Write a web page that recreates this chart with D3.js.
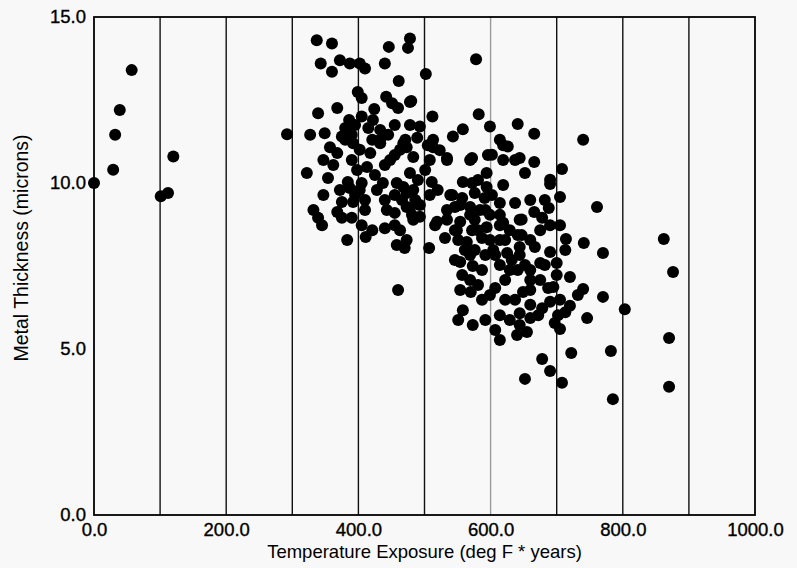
<!DOCTYPE html>
<html><head><meta charset="utf-8">
<script src="https://cdn.jsdelivr.net/npm/d3@7/dist/d3.min.js"></script>
<style>
html,body{margin:0;padding:0;background:#f8f8f8;}
svg{display:block;}
text{font-family:"Liberation Sans",Arial,Helvetica,sans-serif;fill:#000;}
</style></head>
<body>
<script>
const xTicks = [0, 200, 400, 600, 800, 1000];
const yTicks = [0, 5, 10, 15];
const gridValues = [100, 200, 300, 400, 500, 600, 700, 800, 900];
const xTitle = "Temperature Exposure (deg F * years)";
const yTitle = "Metal Thickness (microns)";

// Temperature exposure (deg F * years)
const exposure = [
0,29,32,39,57,101,112,120,292,
337,360,478,475,446,343,372,387,402,410,360,440,461,399,405,442,451,460,478,339,368,424,386,405,422,327,349,375,390,445,433,
578,502,480,512,582,599,641,666,558,543,614,626,602,572,534,513,493,740,644,666,652,708,690,690,705,761,666,688,678,647,647,714,741,770,667,690,700,652,675,660,720,695,687,740,732,770,649,862,803,690,678,720,702,746,697,705,870,782,722,678,690,708,870,785,652,876,460,
322,347,332,339,345,383,411,440,463,458,473,368,375,390,410,372,387,402,384,375,392,428,437,458,440,443,455,473,483,478,473,357,347,368,402,418,433,448,463,483,413,398,380,392,
473,513,534,569,596,619,637,619,511,508,486,478,558,572,594,619,594,542,557,576,591,614,637,546,569,584,599,614,519,534,554,576,549,572,594,619,644,551,564,587,614,641,644,576,604,625,507,468,468,483,493,
554,573,587,569,554,570,587,558,551,614,573,614,637,644,644,655,640,672,632,641,622,607,660,470,
362,354,390,380,395,415,421,433,455,478,489,471,455,440,425,405,395,410,405,421,455,466,481,455,493,490,501,508,505,523,
520,539,554,534,516,546,531,561,569,581,592,599,581,602,614,622,607,629,644,660,675,660,682,690,705,713,682,700,675,660,
629,614,592,569,546,557,581,599,622,592,660,660,629,607,705,713
];
// Metal thickness (microns)
const thickness = [
10.0,10.4,11.45,12.2,13.4,9.6,9.7,10.8,11.47,
14.3,14.2,14.35,14.07,14.1,13.6,13.7,13.6,13.6,13.45,13.35,13.6,13.07,12.74,12.56,12.6,12.4,12.26,12.44,12.1,12.26,12.23,11.9,12.0,11.9,11.45,11.5,11.4,11.45,11.45,11.3,
13.73,13.28,12.47,12.0,12.07,11.7,11.78,11.48,11.62,11.4,11.3,11.1,10.85,10.75,10.75,11.3,11.7,11.3,10.75,10.63,10.3,10.42,10.1,9.97,9.58,9.28,9.13,9.25,8.95,8.9,8.43,8.31,8.19,7.89,8.07,7.92,7.59,7.53,7.59,7.08,7.17,6.87,6.84,6.81,6.63,6.57,6.72,8.31,6.2,6.42,6.23,6.3,6.02,5.93,5.78,5.6,5.33,4.94,4.88,4.7,4.34,3.98,3.86,3.49,4.1,7.32,6.78,
10.3,9.64,9.19,8.95,8.73,8.28,8.37,8.64,8.58,8.13,8.28,9.13,8.95,8.95,9.19,9.79,9.85,9.79,10.03,9.43,9.43,9.79,10.0,10.0,9.49,9.19,9.1,9.28,8.89,10.3,9.7,11.08,10.69,10.9,11.0,10.9,11.2,10.69,11.0,10.78,10.48,10.39,11.3,11.2,
11.08,11.08,10.69,10.69,10.84,10.69,10.69,11.14,10.03,9.64,9.49,9.25,10.03,10.0,10.3,9.94,9.88,9.64,9.55,9.7,9.55,9.4,9.4,9.28,9.28,9.19,9.04,9.04,8.83,8.89,8.83,8.89,8.58,8.58,8.67,8.8,8.89,8.28,8.22,8.34,8.28,8.43,8.07,7.98,7.98,7.89,8.04,11.2,9.88,9.79,8.98,
7.62,7.5,7.38,7.08,6.78,6.72,6.48,6.17,5.87,6.02,5.72,5.27,6.48,6.08,5.72,5.51,5.42,6.02,7.68,7.38,7.08,6.84,7.38,8.04,
10.54,10.15,10.69,11.66,11.75,11.66,11.3,11.6,11.75,11.75,11.36,11.3,10.84,10.54,10.24,10.0,9.64,9.49,8.73,8.58,9.64,9.49,9.04,8.73,9.34,10.09,10.39,10.69,11.14,10.99,
9.79,9.64,9.34,9.19,8.73,8.58,8.34,7.98,9.04,8.58,9.19,8.28,10.09,9.64,8.73,8.28,7.83,8.58,7.83,8.28,8.58,9.49,9.49,8.73,8.73,7.98,7.53,7.23,7.08,6.78,
7.38,7.53,7.83,7.83,7.68,7.23,6.93,6.63,6.48,5.87,6.33,5.93,5.87,5.57,6.48,6.11
];

const W = 797, H = 568;
const svg = d3.select("body").append("svg").attr("width", W).attr("height", H);
svg.append("rect").attr("width", W).attr("height", H).attr("fill", "#f8f8f8");

const x = d3.scaleLinear().domain([0, 1000]).range([94, 755]);
const y = d3.scaleLinear().domain([0, 15]).range([515, 17]);

// vertical grid lines
svg.append("g").selectAll("line").data(gridValues).join("line")
  .attr("x1", d => x(d)).attr("x2", d => x(d))
  .attr("y1", y(15)).attr("y2", y(0))
  .attr("stroke", d => d === 600 ? "#9a9a9a" : "#111")
  .attr("stroke-width", 1.4);

// frame
svg.append("rect")
  .attr("x", x(0)).attr("y", y(15))
  .attr("width", x(1000) - x(0)).attr("height", y(0) - y(15))
  .attr("fill", "none").attr("stroke", "#000").attr("stroke-width", 1.8);

// axes
const fmt = d3.format(".1f");
const gx = svg.append("g").attr("transform", `translate(0,${y(0)})`)
  .call(d3.axisBottom(x).tickValues(xTicks).tickFormat(fmt).tickSize(0).tickPadding(8));
gx.select(".domain").remove();
gx.selectAll("text").attr("font-size", 18.5).attr("font-family", "'Liberation Sans',Arial,sans-serif")
  .attr("fill", "#000").attr("stroke", "#000").attr("stroke-width", 0.35);

const gy = svg.append("g").attr("transform", `translate(${x(0)},0)`)
  .call(d3.axisLeft(y).tickValues(yTicks).tickFormat(fmt).tickSize(0).tickPadding(8));
gy.select(".domain").remove();
gy.selectAll("text").attr("font-size", 18.5).attr("font-family", "'Liberation Sans',Arial,sans-serif")
  .attr("fill", "#000").attr("stroke", "#000").attr("stroke-width", 0.35);

// points
svg.append("g").selectAll("circle").data(d3.range(exposure.length)).join("circle")
  .attr("cx", i => x(exposure[i]))
  .attr("cy", i => y(thickness[i]))
  .attr("r", 6)
  .attr("fill", "#000");

// titles
svg.append("text").attr("x", (x(0) + x(1000)) / 2).attr("y", 558)
  .attr("text-anchor", "middle").attr("font-size", 18.5).text(xTitle);
svg.append("text").attr("transform", `translate(28,${(y(0) + y(15)) / 2 - 18}) rotate(-90)`)
  .attr("text-anchor", "middle").attr("font-size", 19.5).text(yTitle);
</script>
</body></html>
